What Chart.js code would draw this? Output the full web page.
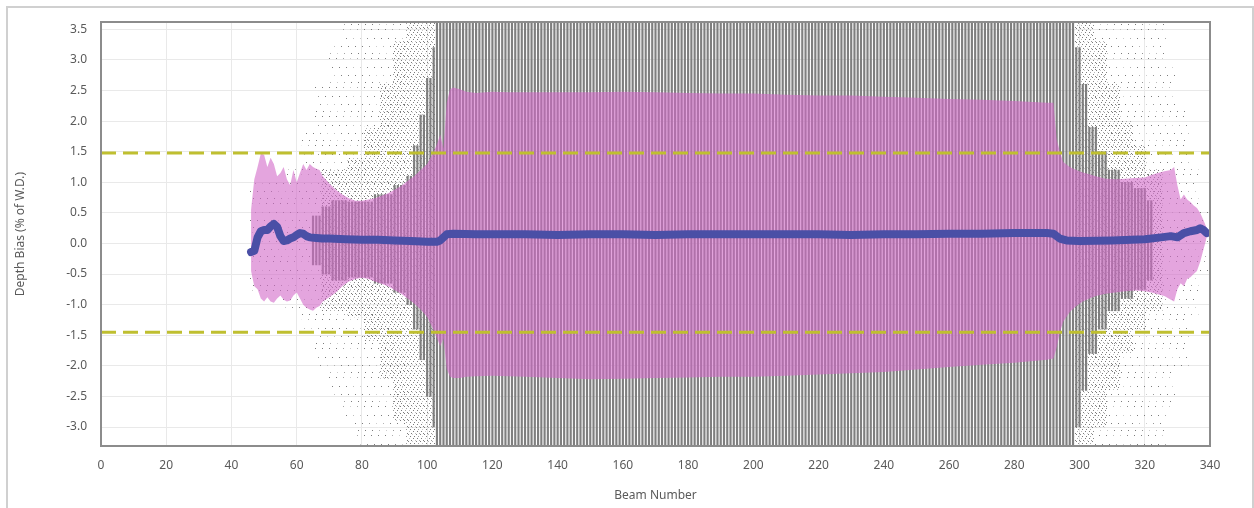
<!DOCTYPE html>
<html>
<head>
<meta charset="utf-8">
<script src="https://cdn.jsdelivr.net/npm/chart.js@4.4.1/dist/chart.umd.min.js"></script>
<style>
    html, body { margin: 0; padding: 0; background: #ffffff; }
    #wrap { position: relative; width: 1254px; height: 508px; overflow: hidden; }
    #panel { position: absolute; left: 6px; top: 6px; width: 1244px; height: 540px; border: 2px solid #d0d0d0; }
    #chart { position: absolute; left: 0; top: 0; }
</style>
</head>
<body>
<div id="wrap">
    <div id="panel"></div>
    <canvas id="chart" width="1254" height="508"></canvas>
</div>
<script>
// axis setup
const xMin = 0, xMax = 340, xStep = 20;
const yMin = -3.31, yMax = 3.62;
const yTickValues = [-3.0, -2.5, -2.0, -1.5, -1.0, -0.5, 0.0, 0.5, 1.0, 1.5, 2.0, 2.5, 3.0, 3.5];

// depth bias limits (dashed)
const limitUpper = 1.48;
const limitLower = -1.45;

// soundings extent per run of beams: [firstBeam, lastBeam, low, high]
const solidRuns = [
    [65, 67, -0.35, 0.45], [68, 70, -0.5, 0.6], [71, 75, -0.6, 0.7], [76, 83, -0.55, 0.68],
    [84, 89, -0.65, 0.8], [90, 93, -0.8, 0.95], [94, 95, -1.0, 1.1], [96, 97, -1.4, 1.6],
    [98, 99, -1.9, 2.1], [100, 101, -2.5, 2.7], [102, 102, -3.0, 3.2], [103, 298, -3.31, 3.62],
    [299, 300, -3.0, 3.2], [301, 302, -2.4, 2.6], [303, 305, -1.8, 1.9], [306, 308, -1.4, 1.5],
    [309, 312, -1.1, 1.2], [313, 316, -0.9, 1.0], [317, 320, -0.75, 0.9], [321, 322, -0.6, 0.7]
];
const denseDotRuns = [
    [68, 75, -1.1, 1.2], [76, 80, -1.2, 1.4], [81, 85, -1.6, 1.9], [86, 89, -2.2, 2.6],
    [90, 93, -2.9, 3.3], [94, 102, -3.31, 3.62], [299, 304, -3.31, 3.62], [305, 308, -3.0, 3.3],
    [309, 312, -2.4, 2.6], [313, 316, -1.8, 2.0], [317, 320, -1.4, 1.6], [321, 325, -1.1, 1.2]
];
const sparseDotRuns = [
    [46, 55, -0.8, 1.0], [56, 61, -1.1, 1.3], [62, 65, -1.5, 1.9], [66, 69, -2.0, 2.6],
    [70, 73, -2.5, 3.3], [74, 77, -2.9, 3.62], [78, 93, -3.31, 3.62], [305, 326, -3.31, 3.62],
    [327, 329, -2.7, 3.0], [330, 333, -2.0, 2.2], [334, 336, -1.2, 1.3], [337, 339, -0.5, 0.6]
];

// standard deviation band
const bandBeams = [
    46, 47, 48, 49, 50, 51, 52, 53, 54, 55,
    56, 57, 58, 59, 60, 61, 62, 63, 64, 65,
    66, 67, 68, 70, 72, 74, 76, 78, 80, 82,
    84, 86, 88, 90, 92, 94, 96, 98, 100, 102,
    103, 104, 105, 106, 107, 108, 110, 112, 115, 120,
    125, 130, 140, 150, 160, 170, 180, 190, 200, 210,
    220, 230, 240, 250, 260, 270, 280, 290, 292, 293,
    294, 295, 297, 299, 301, 303, 305, 308, 311, 314,
    317, 320, 322, 324, 326, 328, 329, 330, 331, 332,
    333, 334, 335, 336, 337, 338, 339
];
const bandUpper = [
    0.55, 1.05, 1.25, 1.47, 1.45, 1.25, 1.4, 1.3, 1.1, 1.15,
    1.25, 1.05, 0.95, 1.2, 1.0, 1.15, 1.3, 1.2, 1.3, 1.25,
    1.22, 1.2, 1.1, 0.98, 0.88, 0.8, 0.74, 0.7, 0.7, 0.72,
    0.74, 0.78, 0.82, 0.88, 0.94, 1.02, 1.1, 1.2, 1.3, 1.5,
    1.62, 1.78, 1.55, 2.3, 2.52, 2.55, 2.52, 2.48, 2.46, 2.48,
    2.47, 2.47, 2.47, 2.47, 2.48, 2.47, 2.46, 2.45, 2.45, 2.43,
    2.42, 2.42, 2.4, 2.38, 2.36, 2.35, 2.33, 2.3, 2.3, 1.7,
    1.5, 1.33, 1.25, 1.2, 1.16, 1.13, 1.1, 1.06, 1.05, 1.06,
    1.07, 1.08, 1.12, 1.15, 1.18, 1.2, 1.25, 0.95, 0.72, 0.8,
    0.72, 0.68, 0.62, 0.58, 0.5, 0.38, 0.25
];
const bandLower = [
    -0.45, -0.7, -0.75, -0.9, -0.95, -0.88, -0.95, -0.97, -0.9, -0.85,
    -0.92, -0.95, -0.93, -0.85, -0.8, -0.9, -1.0, -1.05, -1.08, -1.1,
    -1.05, -1.02, -0.95, -0.88, -0.8, -0.7, -0.62, -0.58, -0.56, -0.58,
    -0.62, -0.66, -0.7, -0.76, -0.82, -0.9, -0.98, -1.08, -1.2, -1.42,
    -1.55, -1.68, -1.55, -2.05, -2.18, -2.2, -2.2, -2.18, -2.17, -2.16,
    -2.17, -2.18, -2.2, -2.22, -2.21, -2.2, -2.19, -2.18, -2.18, -2.16,
    -2.14, -2.12, -2.1, -2.06, -2.02, -1.98, -1.95, -1.9, -1.88, -1.7,
    -1.45, -1.28, -1.12, -1.02, -0.95, -0.9, -0.86, -0.82, -0.8, -0.78,
    -0.77, -0.78, -0.8, -0.83, -0.86, -0.92, -0.95, -0.75, -0.65, -0.7,
    -0.58, -0.55, -0.5, -0.45, -0.3, -0.1, 0.1
];

// mean depth bias
const meanBeams = [
    46, 47, 48, 49, 50, 51, 52, 53, 54, 55, 56, 57, 58, 59, 60, 61, 62, 63, 64,
    66, 68, 70, 75, 80, 85, 90, 95, 100, 103, 104, 105, 106, 108, 115, 120,
    130, 140, 150, 160, 170, 180, 190, 200, 210, 220, 230, 240, 250, 260, 270, 280, 290,
    292, 294, 296, 300, 310, 320, 325, 328, 330, 332, 334, 336, 337, 338, 339
];
const meanBias = [
    -0.14, -0.12, 0.1, 0.2, 0.22, 0.22, 0.28, 0.32, 0.27, 0.12, 0.04, 0.05, 0.08, 0.1, 0.14, 0.17, 0.16, 0.12, 0.1,
    0.09, 0.08, 0.08, 0.07, 0.06, 0.06, 0.05, 0.04, 0.03, 0.03, 0.05, 0.1, 0.15, 0.16, 0.15, 0.15,
    0.15, 0.14, 0.15, 0.15, 0.14, 0.15, 0.15, 0.15, 0.15, 0.15, 0.14, 0.15, 0.15, 0.16, 0.16, 0.17, 0.17,
    0.16, 0.08, 0.05, 0.04, 0.05, 0.07, 0.1, 0.12, 0.1, 0.17, 0.2, 0.22, 0.25, 0.22, 0.17
];

const colors = {
    solid: 'rgba(120, 120, 120, 0.95)',
    dot: 'rgba(110, 110, 110, 0.9)',
    band: 'rgba(210, 105, 200, 0.6)',
    mean: '#4a4fa6',
    limit: '#bfbf30',
    grid: '#e9e9e9',
    frame: '#8c8c8c',
    text: '#5a5a5a'
};

const canvas = document.getElementById('chart');
const ctx = canvas.getContext('2d');

function dotPattern(w, h, dots, color) {
    const tile = document.createElement('canvas');
    tile.width = w;
    tile.height = h;
    const g = tile.getContext('2d');
    g.fillStyle = color;
    dots.forEach(([x, y]) => g.fillRect(x, y, 1, 1));
    return ctx.createPattern(tile, 'repeat');
}

const densePattern = dotPattern(4, 7, [[0, 0], [2, 2], [1, 4], [3, 6]], colors.dot);
const sparsePattern = dotPattern(7, 29, [[0, 0], [3, 9], [5, 17], [1, 24]], colors.dot);

function runsToBars(runs) {
    const pts = [];
    runs.forEach(([first, last, lo, hi]) => {
        for (let b = first; b <= last; b++) pts.push({ x: b, y: [lo, hi] });
    });
    return pts;
}

const barDefaults = { type: 'bar', grouped: false, borderWidth: 0 };

const framePlugin = {
    id: 'frame',
    afterDraw(chart) {
        const a = chart.chartArea;
        chart.ctx.save();
        chart.ctx.strokeStyle = colors.frame;
        chart.ctx.lineWidth = 2;
        chart.ctx.strokeRect(a.left, a.top, a.right - a.left, a.bottom - a.top);
        chart.ctx.restore();
    }
};

new Chart(ctx, {
    type: 'bar',
    data: {
        datasets: [
            { ...barDefaults, label: 'sparse', data: runsToBars(sparseDotRuns), backgroundColor: sparsePattern, barThickness: 2, order: 9 },
            { ...barDefaults, label: 'dense', data: runsToBars(denseDotRuns), backgroundColor: densePattern, barThickness: 2, order: 8 },
            { ...barDefaults, label: 'solid', data: runsToBars(solidRuns), backgroundColor: colors.solid, barThickness: 1.5, order: 7 },
            {
                type: 'line', label: 'lower',
                data: bandBeams.map((b, i) => ({ x: b, y: bandLower[i] })),
                borderWidth: 0, pointRadius: 0, fill: false, order: 6
            },
            {
                type: 'line', label: 'upper',
                data: bandBeams.map((b, i) => ({ x: b, y: bandUpper[i] })),
                borderWidth: 0, pointRadius: 0, fill: '-1', backgroundColor: colors.band, order: 5
            },
            {
                type: 'line', label: 'limit+',
                data: [{ x: xMin, y: limitUpper }, { x: xMax, y: limitUpper }],
                borderColor: colors.limit, borderWidth: 3, borderDash: [15, 7], pointRadius: 0, order: 2
            },
            {
                type: 'line', label: 'limit-',
                data: [{ x: xMin, y: limitLower }, { x: xMax, y: limitLower }],
                borderColor: colors.limit, borderWidth: 3, borderDash: [15, 7], pointRadius: 0, order: 2
            },
            {
                type: 'line', label: 'mean',
                data: meanBeams.map((b, i) => ({ x: b, y: meanBias[i] })),
                borderColor: colors.mean, borderWidth: 8, pointRadius: 0,
                borderJoinStyle: 'round', borderCapStyle: 'round', order: 1
            }
        ]
    },
    options: {
        responsive: false,
        animation: false,
        events: [],
        layout: { padding: { left: 8, top: 22, right: 44, bottom: 5 } },
        plugins: { legend: { display: false }, tooltip: { enabled: false } },
        scales: {
            x: {
                type: 'linear',
                min: xMin, max: xMax,
                offset: false,
                grid: { color: colors.grid, drawTicks: false, offset: false },
                border: { display: false },
                ticks: {
                    stepSize: xStep, padding: 12, maxRotation: 0, autoSkip: false,
                    color: colors.text, font: { family: "'Noto Sans', sans-serif", size: 12 }
                },
                title: {
                    display: true, text: 'Beam Number', color: colors.text,
                    font: { family: "'Noto Sans', sans-serif", size: 12 }, padding: 0
                },
                afterFit: scale => { scale.height = 57; }
            },
            y: {
                min: yMin, max: yMax,
                grid: { color: colors.grid, drawTicks: false },
                border: { display: false },
                afterBuildTicks: scale => { scale.ticks = yTickValues.map(v => ({ value: v })); },
                ticks: {
                    padding: 14,
                    color: colors.text, font: { family: "'Noto Sans', sans-serif", size: 12 },
                    callback: value => value.toFixed(1)
                },
                title: {
                    display: true, text: 'Depth Bias (% of W.D.)', color: colors.text,
                    font: { family: "'Noto Sans', sans-serif", size: 12 }, padding: { top: 5, bottom: 0 }
                },
                afterFit: scale => { scale.width = 93; }
            }
        }
    },
    plugins: [framePlugin]
});
</script>
</body>
</html>
